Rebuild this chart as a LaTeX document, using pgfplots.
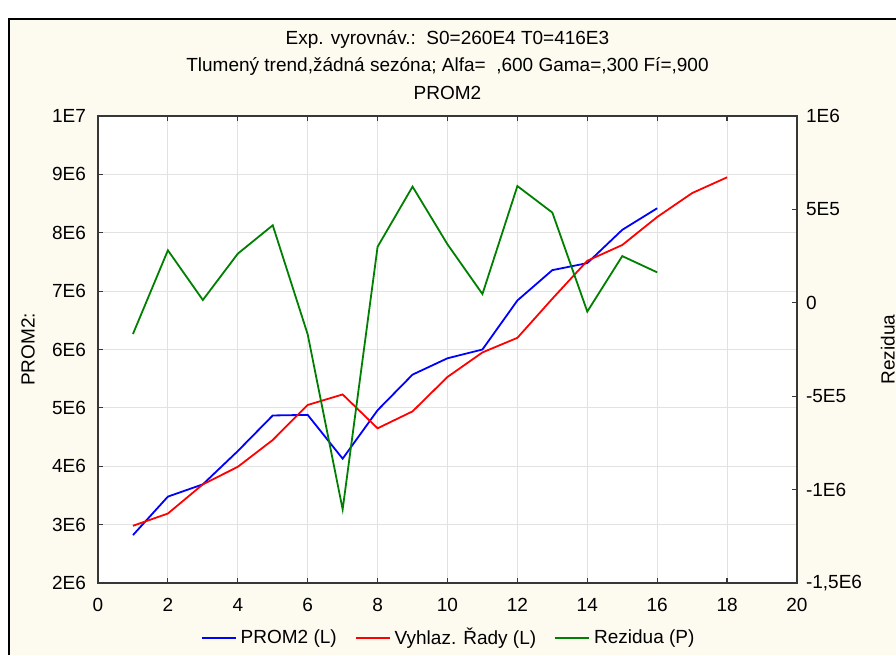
\documentclass[border=0pt]{standalone}
\usepackage{fontspec}
\setmainfont{Liberation Sans}
\usepackage{pgfplots}
\pgfplotsset{compat=1.18}

\definecolor{cream}{RGB}{253,250,240}
\definecolor{gridgray}{RGB}{226,226,226}
\definecolor{axgray}{RGB}{55,55,55}
\definecolor{resgreen}{RGB}{0,128,0}

% PROM2 and smoothed series (left axis)
\pgfplotstableread{
x prom2 vyhlaz
1 2.82e6 2.98e6
2 3.48e6 3.19e6
3 3.69e6 3.69e6
4 4.26e6 3.99e6
5 4.87e6 4.45e6
6 4.88e6 5.05e6
7 4.13e6 5.23e6
8 4.96e6 4.65e6
9 5.57e6 4.94e6
10 5.85e6 5.53e6
11 6.00e6 5.95e6
12 6.84e6 6.20e6
13 7.36e6 6.87e6
14 7.48e6 7.52e6
15 8.05e6 7.79e6
16 8.42e6 8.27e6
17 nan 8.68e6
18 nan 8.95e6
}\leftdata

% residuals (right axis)
\pgfplotstableread{
x rez
1 -1.67e5
2 2.81e5
3 1.5e4
4 2.63e5
5 4.15e5
6 -1.69e5
7 -1.106e6
8 3.00e5
9 6.22e5
10 3.13e5
11 4.7e4
12 6.25e5
13 4.83e5
14 -4.7e4
15 2.50e5
16 1.63e5
}\resdata

\pgfplotsset{
  common/.style={
    at={(0,0)}, anchor=south west,
    scale only axis, width=349.5pt, height=233.5pt,
    xmin=0, xmax=20,
    font=\fontsize{9.5}{11}\selectfont,
    axis line style={axgray, line width=0.9pt},
    tick style={axgray, line width=0.6pt},
    major tick length=2.5pt,
    tick align=inside,
    /pgf/number format/assume math mode=true,
    every axis y label/.style={rotate=90, anchor=center},
  },
}

\begin{document}
\begin{tikzpicture}[x=1pt,y=1pt]
\path[use as bounding box, fill=white] (-49,-36) rectangle (399,291.5);
\fill[cream] (-44.5,-36) rectangle (399,282);
\draw[line width=1pt] (-44.5,-36) -- (-44.5,282) -- (399,282);

\node[font=\fontsize{9.5}{11}\selectfont] at (174.75,272) {Exp. vyrovnáv.:\ \ S0=260E4 T0=416E3};
\node[font=\fontsize{9.5}{11}\selectfont] at (174.75,258.5) {Tlumený trend,žádná sezóna; Alfa=\ \ ,600 Gama=,300 Fí=,900};
\node[font=\fontsize{9.5}{11}\selectfont] at (174.75,245) {PROM2};

\begin{axis}[common,
  axis background/.style={fill=white},
  ymin=2e6, ymax=1e7,
  xtick={0,2,4,6,8,10,12,14,16,18,20},
  ytick={2e6,3e6,4e6,5e6,6e6,7e6,8e6,9e6,1e7},
  yticklabels={2E6,3E6,4E6,5E6,6E6,7E6,8E6,9E6,1E7},
  ytick pos=left, xtick pos=both,
  scaled y ticks=false,
  xticklabel style={yshift=-4pt},
  yticklabel style={xshift=-2.5pt},
  grid=major,
  major grid style={gridgray, line width=0.5pt},
  ylabel={PROM2:},
  every axis y label/.append style={at={(axis description cs:-0.1,0.5)}},
  legend style={at={(axis description cs:0.503,-0.118)}, anchor=center,
    draw=none, fill=none, legend columns=-1,
    font=\fontsize{9.5}{11}\selectfont,
    /tikz/every even column/.append style={column sep=7pt}},
  legend cell align=left,
]
\addplot[blue, line width=0.9pt] table[x=x, y=prom2] {\leftdata};
\addlegendentry{PROM2 (L)}
\addplot[red, line width=0.9pt] table[x=x, y=vyhlaz] {\leftdata};
\addlegendentry{Vyhlaz. Řady (L)}
\addlegendimage{resgreen, line width=0.9pt}
\addlegendentry{Rezidua (P)}
\end{axis}

\begin{axis}[common,
  axis y line*=right, axis x line=none,
  ymin=-1.5e6, ymax=1e6,
  ytick={-1.5e6,-1e6,-5e5,0,5e5,1e6},
  yticklabels={{-1,5E6},-1E6,-5E5,0,5E5,1E6},
  scaled y ticks=false,
  yticklabel style={xshift=1pt},
  ylabel={Rezidua},
  every axis y label/.append style={at={(axis description cs:1.13,0.5)}},
]
\addplot[resgreen, line width=0.9pt] table[x=x, y=rez] {\resdata};
\end{axis}
\end{tikzpicture}
\end{document}
